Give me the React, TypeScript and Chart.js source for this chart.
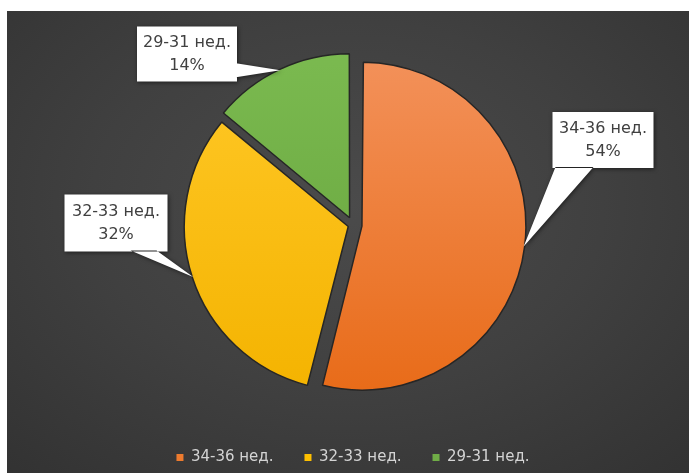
import { useEffect, useRef } from "react";
import { Chart, registerables } from "chart.js";

Chart.register(...registerables);

// Distribution by gestational age (weeks)
const categories = ["34-36 нед.", "32-33 нед.", "29-31 нед."];
const shares = [54, 32, 14];

const sliceTop = ["#F3915A", "#FFC827", "#7BBA50"];
const sliceBottom = ["#E86B18", "#F4B300", "#65A23B"];
const sliceFlat = ["#EE7B2E", "#FFC000", "#70AD47"];
// Chart.js moves an arc by a quarter of its offset value
const explode = [36, 20, 32];
const pieRadius = 164;

// Callout boxes: centre relative to the pie centre, pointer side, half width of its base
// and the minimum gap between the base and the box corner
const calloutBoxes = [
  { dx: 250, dy: -85, w: 101, h: 56, side: "bottom", half: 19, inset: 3 },
  { dx: -237, dy: -2, w: 103, h: 57, side: "bottom", half: 13, inset: 11 },
  { dx: -166, dy: -171, w: 100, h: 55, side: "right", half: 7, inset: 3 },
];

const clamp = (v: number, lo: number, hi: number) => Math.max(lo, Math.min(hi, v));

// Chart.js enlarges an exploded arc by offset * (1 - sin(min(PI, circumference)));
// shrink each arc beforehand so that all slices keep the same visible radius.
const equalRadiusPlugin = {
  id: "equalRadius",
  beforeDatasetsDraw(chart: any) {
    const meta = chart.getDatasetMeta(0);
    meta.data.forEach((arc: any) => {
      const off = (arc.options.offset || 0) / 4;
      const circ = arc.circumference;
      const fix = 1 - Math.sin(Math.min(Math.PI, circ || 0));
      arc.outerRadius = pieRadius - off * fix;
    });
  },
};

const calloutPlugin = {
  id: "callouts",
  afterDatasetsDraw(chart: any) {
    const { ctx, chartArea } = chart;
    const meta = chart.getDatasetMeta(0);
    const values: number[] = chart.data.datasets[0].data;
    const total = values.reduce((a, b) => a + b, 0);
    const cx = (chartArea.left + chartArea.right) / 2;
    const cy = (chartArea.top + chartArea.bottom) / 2;

    meta.data.forEach((arc: any, i: number) => {
      const p = arc.getProps(["x", "y", "startAngle", "endAngle"], true);
      const off = (arc.options.offset || 0) / 4;
      const mid = (p.startAngle + p.endAngle) / 2;
      const ax = p.x + Math.cos(mid) * off;
      const ay = p.y + Math.sin(mid) * off;
      const tx = ax + Math.cos(mid) * (pieRadius - 1);
      const ty = ay + Math.sin(mid) * (pieRadius - 1);

      const b = calloutBoxes[i];
      const bx = cx + b.dx - b.w / 2;
      const by = cy + b.dy - b.h / 2;

      let b1x: number, b1y: number, b2x: number, b2y: number;
      if (b.side === "bottom" || b.side === "top") {
        const yEdge = b.side === "bottom" ? by + b.h - 1 : by + 1;
        const mx = clamp(tx, bx + b.inset + b.half, bx + b.w - b.inset - b.half);
        b1x = mx - b.half; b2x = mx + b.half; b1y = yEdge; b2y = yEdge;
      } else {
        const xEdge = b.side === "right" ? bx + b.w - 1 : bx + 1;
        const my = clamp(ty, by + b.inset + b.half, by + b.h - b.inset - b.half);
        b1y = my - b.half; b2y = my + b.half; b1x = xEdge; b2x = xEdge;
      }

      ctx.save();
      ctx.shadowColor = "rgba(0,0,0,0.55)";
      ctx.shadowBlur = 4;
      ctx.shadowOffsetX = 1;
      ctx.shadowOffsetY = 1;
      ctx.fillStyle = "#FFFFFF";
      ctx.beginPath();
      ctx.rect(bx, by, b.w, b.h);
      ctx.moveTo(b1x, b1y);
      ctx.lineTo(tx, ty);
      ctx.lineTo(b2x, b2y);
      ctx.closePath();
      ctx.fill();
      ctx.restore();

      ctx.save();
      ctx.fillStyle = "#404040";
      ctx.font = '16px "DejaVu Sans"';
      ctx.textAlign = "center";
      ctx.textBaseline = "middle";
      const pct = Math.round((values[i] / total) * 100) + "%";
      ctx.fillText(categories[i], bx + b.w / 2, by + b.h / 2 - 11.5);
      ctx.fillText(pct, bx + b.w / 2, by + b.h / 2 + 11.5);
      ctx.restore();
    });
  },
};

export default function App() {
  const canvasRef = useRef<HTMLCanvasElement | null>(null);

  useEffect(() => {
    const canvas = canvasRef.current;
    if (!canvas) return;
    const chart = new Chart(canvas, {
      type: "pie",
      data: {
        labels: categories,
        datasets: [
          {
            data: shares,
            backgroundColor: (c: any) => {
              const area = c.chart.chartArea;
              const i = c.dataIndex ?? 0;
              if (!area) return sliceFlat[i];
              const mid = (area.top + area.bottom) / 2;
              const g = c.chart.ctx.createLinearGradient(0, mid - 170, 0, mid + 170);
              g.addColorStop(0, sliceTop[i]);
              g.addColorStop(1, sliceBottom[i]);
              return g;
            },
            borderColor: "#262626",
            borderWidth: 1.5,
            offset: explode,
            radius: pieRadius,
          } as any,
        ],
      },
      options: {
        animation: false,
        responsive: false,
        devicePixelRatio: 1,
        layout: { padding: { top: 20, left: 10, right: 0, bottom: 0 } },
        plugins: {
          tooltip: { enabled: false },
          legend: {
            position: "bottom",
            labels: {
              color: "#D4D4D4",
              font: { family: "DejaVu Sans", size: 15 },
              boxWidth: 7,
              boxHeight: 7,
              padding: 31,
              generateLabels: () =>
                categories.map((text, i) => ({
                  text,
                  fillStyle: sliceFlat[i],
                  strokeStyle: sliceFlat[i],
                  lineWidth: 0,
                  hidden: false,
                  index: i,
                  fontColor: "#D4D4D4",
                })),
            },
          },
        },
      },
      plugins: [equalRadiusPlugin, calloutPlugin],
    });
    return () => chart.destroy();
  }, []);

  return (
    <div
      style={{
        position: "absolute",
        left: 7,
        top: 11,
        width: 682,
        height: 462,
        overflow: "hidden",
        background:
          "radial-gradient(ellipse 75% 80% at 50% 42%, #4b4b4b 0%, #404040 50%, #323232 100%)",
      }}
    >
      <canvas ref={canvasRef} width={682} height={464} style={{ display: "block" }} />
    </div>
  );
}
